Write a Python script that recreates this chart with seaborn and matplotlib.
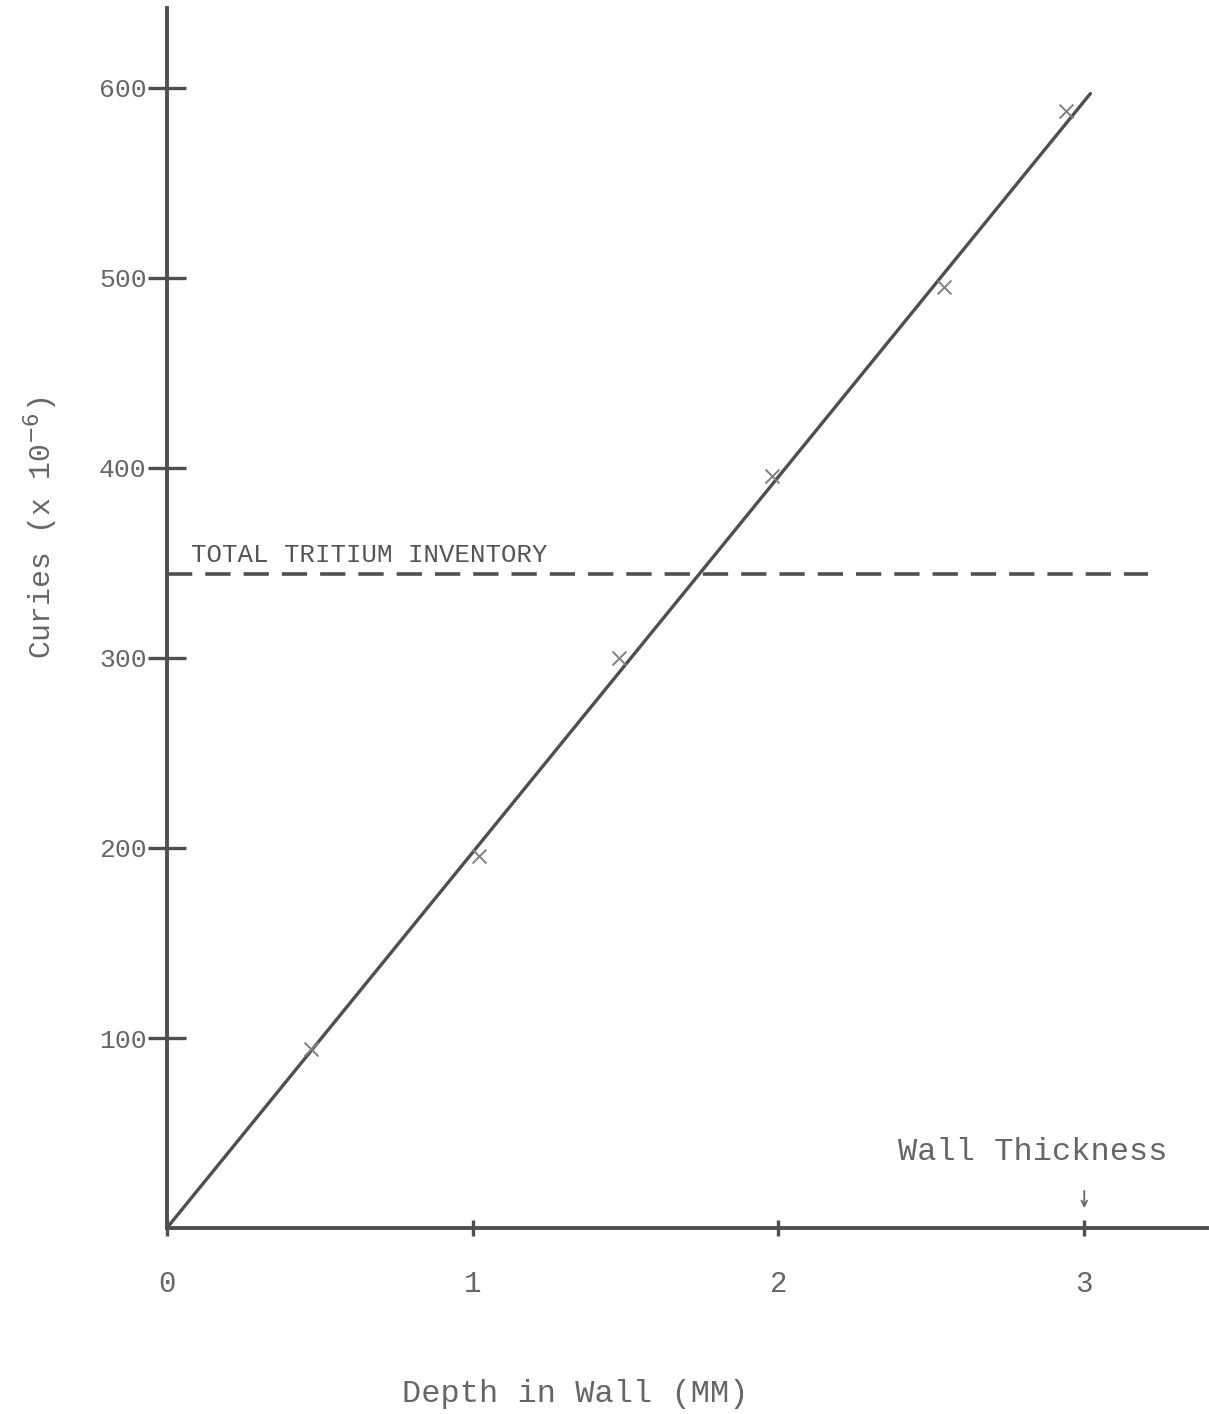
import matplotlib
matplotlib.use("Agg")
import matplotlib.pyplot as plt
import seaborn as sns
import pandas as pd

# Fitted straight line through the origin
depth_fit = [0.0, 3.02]
curies_fit = [0.0, 597.0]

# Measured points (x marks)
depth_pts = [0.47, 1.02, 1.48, 1.98, 2.54, 2.94]
curies_pts = [94, 196, 300, 396, 495, 588]

# Total tritium inventory level
inventory_level = 344
inventory_span = [0.0, 3.21]

x_ticks = [0, 1, 2, 3]
x_tick_labels = ["0", "1", "2", "3"]
y_ticks = [100, 200, 300, 400, 500, 600]
y_tick_labels = ["100", "200", "300", "400", "500", "600"]

wall_thickness = 3.0

ink = "#4f4f4f"
text_ink = "#666666"

sns.set_style("white")
plt.rcParams["font.family"] = ["Liberation Mono", "DejaVu Sans"]

fig = plt.figure(figsize=(12.09, 14.14), dpi=100)
ax = fig.add_axes([0.138, 0.1315, 0.860, 0.8628])

fit_df = pd.DataFrame({"depth": depth_fit, "curies": curies_fit})
pts_df = pd.DataFrame({"depth": depth_pts, "curies": curies_pts})
inv_df = pd.DataFrame({"depth": inventory_span,
                       "curies": [inventory_level] * len(inventory_span)})

sns.lineplot(data=fit_df, x="depth", y="curies", ax=ax, color=ink,
             linewidth=2.4, solid_capstyle="round")
sns.scatterplot(data=pts_df, x="depth", y="curies", ax=ax, marker="x",
                color="#808080", s=100, linewidth=1.4, zorder=3)
sns.lineplot(data=inv_df, x="depth", y="curies", ax=ax, color=ink,
             linewidth=2.6, dashes=False)
ax.lines[-1].set_dashes((7, 3.6))

ax.text(0.08, inventory_level + 4, "TOTAL TRITIUM INVENTORY", fontsize=18.5,
        color="#555555", ha="left", va="bottom")

ax.annotate("", xy=(wall_thickness, 9), xytext=(wall_thickness, 21),
            arrowprops=dict(arrowstyle="->", color=text_ink, lw=1.3))
ax.text(2.83, 40, "Wall Thickness", fontsize=23, color=text_ink,
        ha="center", va="center")

ax.set_xlim(0, 3.40)
ax.set_ylim(0, 642)

ax.set_xticks(x_ticks)
ax.set_xticklabels(x_tick_labels)
ax.set_yticks(y_ticks)
ax.set_yticklabels(y_tick_labels)

ax.tick_params(axis="y", left=True, direction="inout", length=27, width=2.4,
               color=ink, labelsize=19, labelcolor=text_ink, pad=1)
ax.tick_params(axis="x", bottom=True, direction="inout", length=12, width=2.4,
               color=ink, labelsize=21, labelcolor=text_ink, pad=24)

for side in ["top", "right"]:
    ax.spines[side].set_visible(False)
for side in ["left", "bottom"]:
    ax.spines[side].set_color(ink)
    ax.spines[side].set_linewidth(2.8)

ax.set_xlabel("Depth in Wall (MM)", fontsize=23, color=text_ink)
ax.set_ylabel("Curies (x 10$^{-6}$)", fontsize=21.5, color=text_ink)
ax.xaxis.set_label_coords(0.393, -0.124)
ax.yaxis.set_label_coords(-0.103, 0.574)

fig.savefig("out.png", dpi=100, facecolor="white")
